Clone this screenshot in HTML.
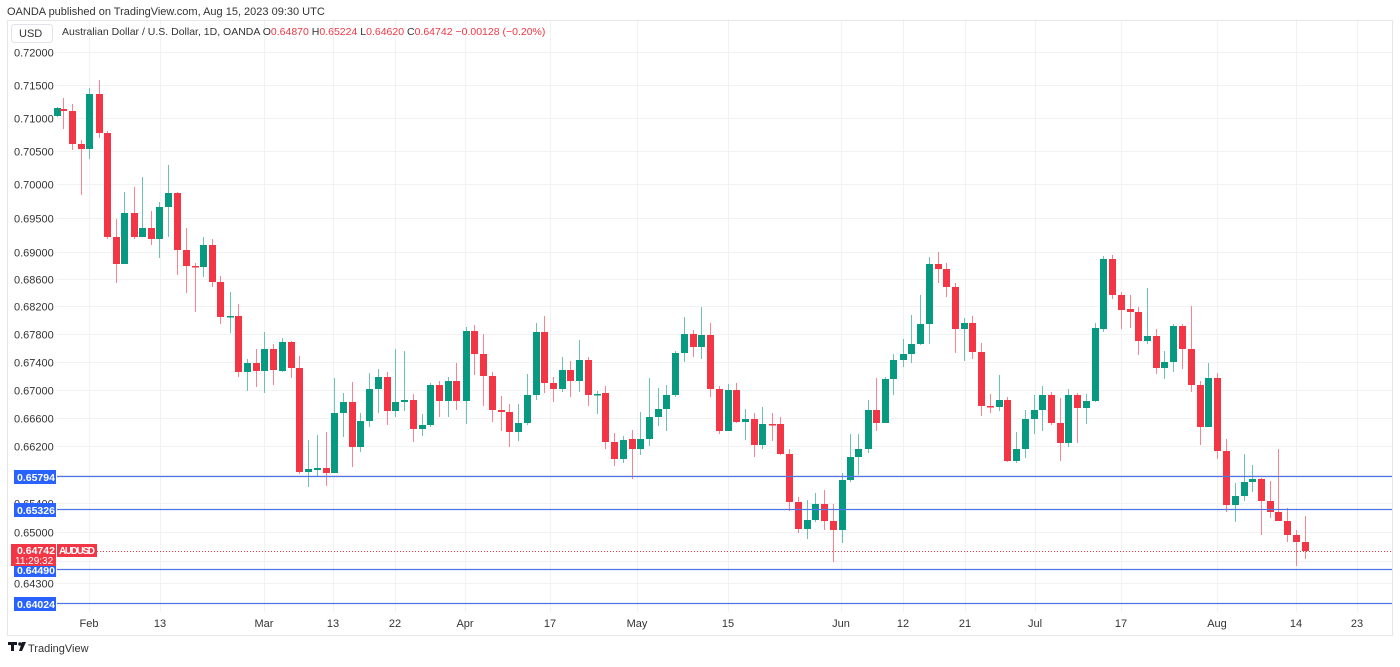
<!DOCTYPE html>
<html><head><meta charset="utf-8"><style>
body{margin:0;background:#fff;width:1400px;height:662px;overflow:hidden;font-family:"Liberation Sans",sans-serif}
</style></head><body>
<svg id="s" width="1400" height="662" xmlns="http://www.w3.org/2000/svg" font-family="Liberation Sans, sans-serif">
<rect width="1400" height="662" fill="#fff"/>
<text x="7" y="15" font-size="11" fill="#333">OANDA published on TradingView.com, Aug 15, 2023 09:30 UTC</text>
<rect x="7.5" y="20.5" width="1385" height="615" fill="none" stroke="#e6e6e6"/>
<g id="grid" stroke="#f2f2f2" stroke-width="1"></g>
<g id="ylab" font-size="11" fill="#333"></g>
<g id="xlab" font-size="11" fill="#333" text-anchor="middle"></g>
<g id="candles"></g>
<g id="lines"></g>
<rect x="11.5" y="24.5" width="41" height="18" rx="3" fill="#fff" stroke="#e0e3eb"/>
<text x="19" y="37" font-size="11" fill="#333">USD</text>
<text x="62" y="35" font-size="10.5" fill="#333">Australian Dollar / U.S. Dollar, 1D, OANDA  O<tspan fill="#f23645">0.64870</tspan>  H<tspan fill="#f23645">0.65224</tspan>  L<tspan fill="#f23645">0.64620</tspan>  C<tspan fill="#f23645">0.64742</tspan>  <tspan fill="#f23645">−0.00128 (−0.20%)</tspan></text>
<g transform="translate(8,642)"><rect x="0" y="0" width="9" height="3" fill="#131722"/><rect x="3" y="0" width="3" height="9" fill="#131722"/><circle cx="12" cy="2" r="1.8" fill="#131722"/><path d="M14 0 L18 0 L14 9 L11 9 Z" fill="#131722"/></g>
<text x="28" y="652" font-size="11" fill="#333">TradingView</text>
</svg>
<script>
const NS="http://www.w3.org/2000/svg";
function el(p,t,a,txt){const e=document.createElementNS(NS,t);for(const k in a)e.setAttribute(k,a[k]);if(txt!==undefined)e.textContent=txt;document.getElementById(p).appendChild(e);return e;}
const Y=v=>52+Math.log(0.72/v)*4693;
const ys=["0.72000","0.71500","0.71000","0.70500","0.70000","0.69500","0.69000","0.68600","0.68200","0.67800","0.67400","0.67000","0.66600","0.66200","0.65800","0.65400","0.65000","0.64600","0.64300"];
ys.forEach(v=>{const y=Math.round(Y(+v))+.5;el("grid","line",{x1:57,x2:1392,y1:y,y2:y});el("ylab","text",{x:14,y:y+4},v);});
const xs=[[89,"Feb"],[160,"13"],[264,"Mar"],[333,"13"],[395,"22"],[465,"Apr"],[550,"17"],[637,"May"],[728,"15"],[841,"Jun"],[903,"12"],[965,"21"],[1035,"Jul"],[1121,"17"],[1217,"Aug"],[1296,"14"],[1357,"23"]];
xs.forEach(([x,t])=>{el("grid","line",{x1:x+.5,x2:x+.5,y1:21,y2:612});el("xlab","text",{x:x,y:627},t);});
const C=[[57,116,108,107,117],[63,109,111,98,129],[72,111,144,104,150],[81,144,149,140,195],[89,149,94,88,159],[99,94,133,80,138],[107,133,237,131,239],[116,237,264,219,283],[124,264,213,192,264],[134,213,237,187,239],[142,237,228,177,237],[151,228,239,211,245],[159,239,207,202,258],[168,207,193,165,237],[177,193,250,192,275],[186,250,266,228,293],[195,266,267,263,312],[203,267,245,237,277],[212,245,282,239,287],[220,282,317,276,324],[230,317,316,292,333],[238,316,372,304,377],[247,372,363,359,391],[256,363,371,349,387],[264,371,349,332,393],[273,349,370,344,385],[282,371,342,338,372],[291,342,368,341,378],[299,368,472,356,474],[308,472,469,440,487],[317,470,468,435,477],[326,468,473,432,486],[334,473,413,378,473],[343,413,402,393,437],[352,402,447,382,467],[360,447,421,413,452],[369,421,389,373,427],[378,389,377,369,413],[387,377,411,372,425],[395,411,402,349,417],[404,402,400,351,411],[413,400,429,394,442],[422,429,425,414,436],[430,425,385,383,427],[439,385,401,381,417],[448,401,381,377,417],[456,381,401,363,410],[466,401,331,327,424],[474,331,354,325,375],[483,354,376,334,406],[492,376,410,372,422],[501,410,412,396,431],[509,412,432,404,447],[518,432,423,404,441],[527,423,395,374,425],[536,395,332,323,400],[544,332,383,316,393],[553,383,389,377,402],[562,389,370,357,392],[570,370,381,361,397],[579,381,360,340,392],[588,360,395,357,406],[597,395,394,391,414],[605,393,442,386,449],[614,442,459,433,466],[623,459,440,436,463],[632,439,449,430,479],[640,449,439,412,455],[649,439,417,378,446],[658,417,409,388,426],[666,409,395,385,431],[675,395,353,351,397],[684,353,334,317,362],[693,334,347,330,357],[701,347,335,307,359],[710,335,389,323,397],[719,389,431,386,434],[728,431,390,384,431],[736,390,422,383,423],[745,422,419,409,440],[754,419,445,413,457],[762,445,424,407,449],[772,424,424,413,441],[780,424,454,417,455],[789,454,502,449,511],[798,502,529,497,533],[807,529,520,500,539],[815,520,504,493,522],[824,504,521,490,530],[833,521,530,504,562],[842,530,480,473,543],[850,480,457,434,482],[858,457,449,434,475],[868,449,410,400,453],[876,410,423,378,431],[885,423,379,377,423],[893,379,360,354,395],[903,360,354,339,367],[911,354,344,315,363],[920,344,324,295,345],[929,324,264,257,344],[938,264,269,252,283],[946,269,287,263,297],[955,287,329,283,353],[964,329,323,318,361],[972,323,352,316,359],[981,352,406,343,416],[990,406,407,394,413],[999,407,400,375,411],[1007,400,461,397,462],[1016,461,449,432,463],[1025,449,419,410,458],[1034,419,410,395,434],[1042,410,395,386,431],[1051,395,423,392,425],[1060,423,443,398,461],[1068,443,395,389,447],[1077,395,408,393,443],[1086,408,401,394,424],[1095,401,328,323,402],[1103,329,259,256,332],[1112,259,295,255,299],[1121,295,310,292,329],[1130,309,312,295,328],[1138,312,341,307,355],[1147,341,336,288,344],[1156,336,368,329,374],[1164,368,362,351,379],[1173,362,326,324,372],[1182,326,349,324,369],[1191,349,385,306,392],[1200,385,427,381,445],[1208,427,378,363,427],[1217,378,451,373,459],[1226,451,505,439,512],[1235,505,496,483,522],[1244,496,482,454,501],[1252,482,479,465,492],[1261,479,501,478,535],[1270,501,512,481,518],[1278,512,521,449,521],[1287,521,535,508,542],[1296,535,542,530,566],[1305,542,551,516,559]];
C.forEach(([x,o,c,h,l])=>{const up=c<o;const col=up?"#089981":"#f23645";const wc=up?"#6cc3b1":"#f7848e";
el("candles","line",{x1:x+.5,x2:x+.5,y1:h,y2:l,stroke:wc,"stroke-width":1});
const t=Math.min(o,c),b=Math.max(o,c);el("candles","rect",{x:x-3,y:t,width:7,height:Math.max(1.5,b-t),fill:col});});
[[476,"0.65794"],[509,"0.65326"],[569,"0.64490"],[603,"0.64024"]].forEach(([y,t])=>{
el("lines","line",{x1:57,x2:1392,y1:y+.5,y2:y+.5,stroke:"#4f74e3","stroke-width":1.3});
el("lines","rect",{x:14,y:y-6,width:42,height:14,fill:"#2962ff"});
el("lines","text",{x:17,y:y+5,"font-size":"10.5","font-weight":"bold",fill:"#fff"},t);});
el("lines","line",{x1:97,x2:1392,y1:551.5,y2:551.5,stroke:"#f23645","stroke-width":1,"stroke-dasharray":"1,2"});
el("lines","rect",{x:11,y:544,width:45,height:22,fill:"#f23645"});
el("lines","text",{x:17,y:554,"font-size":"10.5","font-weight":"bold",fill:"#fff"},"0.64742");
el("lines","text",{x:15,y:564,"font-size":"10",fill:"#fff"},"11:29:32");
el("lines","rect",{x:57,y:544,width:40,height:13,fill:"#f23645"});
el("lines","text",{x:59,y:554,"font-size":"10","font-weight":"bold",fill:"#fff","textLength":"36"},"AUDUSD");
</script>
</body></html>
